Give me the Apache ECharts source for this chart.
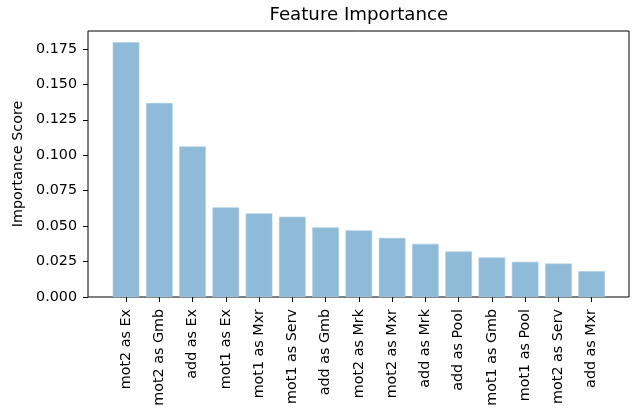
<!DOCTYPE html>
<html>
<head>
<meta charset="utf-8">
<script src="https://cdn.jsdelivr.net/npm/echarts@6/dist/echarts.min.js"></script>
<style>html,body{margin:0;padding:0;background:#fff}#c{width:633px;height:410px}</style>
</head>
<body>
<div id="c"></div>
<script>
const categories = ['mot2 as Ex','mot2 as Gmb','add as Ex','mot1 as Ex','mot1 as Mxr','mot1 as Serv','add as Gmb','mot2 as Mrk','mot2 as Mxr','add as Mrk','add as Pool','mot1 as Gmb','mot1 as Pool','mot2 as Serv','add as Mxr'];
const importance = [0.1797,0.1368,0.1061,0.0632,0.0590,0.0566,0.0491,0.0470,0.0417,0.0375,0.0321,0.0279,0.0248,0.0236,0.0182];
const yTicks = [0, 0.025, 0.05, 0.075, 0.1, 0.125, 0.15, 0.175];
const yMax = 0.1876;

const font = 'DejaVu Sans';
const chart = echarts.init(document.getElementById('c'), null, {renderer: 'canvas'});
chart.setOption({
  animation: false,
  backgroundColor: '#fff',
  title: {
    text: 'Feature Importance',
    left: 358.8,
    top: 6.5,
    padding: 0,
    textAlign: 'center',
    textStyle: {fontFamily: font, fontSize: 18.2, fontWeight: 'normal', color: '#000'}
  },
  grid: [
    {left: 109.4, right: 24.7, top: 31, bottom: 113, containLabel: false},
    {left: 88, right: 4, top: 31, bottom: 113, show: true, borderColor: '#000', borderWidth: 1, backgroundColor: 'transparent', containLabel: false}
  ],
  xAxis: [
    {
      type: 'category', gridIndex: 0, data: categories,
      axisLine: {show: false},
      axisTick: {show: true, alignWithLabel: true, length: 5, lineStyle: {color: '#000', width: 1}},
      axisLabel: {rotate: 90, margin: 12, interval: 0, fontFamily: font, fontSize: 14.3, color: '#000'},
      splitLine: {show: false}
    },
    {type: 'value', gridIndex: 1, show: false, min: 0, max: 1}
  ],
  yAxis: [
    {type: 'value', gridIndex: 0, min: 0, max: yMax, show: false, splitLine: {show: false}},
    {
      type: 'value', gridIndex: 1, min: 0, max: yMax,
      name: 'Importance Score', nameLocation: 'middle', nameGap: 62,
      nameTextStyle: {fontFamily: font, fontSize: 14.3, color: '#000'},
      axisLine: {show: false},
      axisTick: {show: true, length: 5, lineStyle: {color: '#000', width: 1}, customValues: yTicks},
      axisLabel: {fontFamily: font, fontSize: 14.3, color: '#000', margin: 11, customValues: yTicks,
        formatter: v => v.toFixed(3)},
      splitLine: {show: false}
    }
  ],
  series: [{
    type: 'bar', xAxisIndex: 0, yAxisIndex: 0,
    data: importance,
    barCategoryGap: '20%',
    itemStyle: {color: '#8fbbd9', borderColor: '#a9cbe3', borderWidth: 0.6}
  }]
});
</script>
</body>
</html>
